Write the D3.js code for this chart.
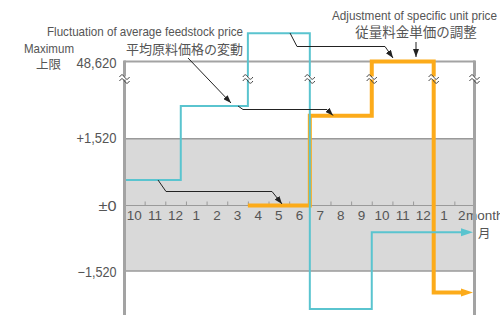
<!DOCTYPE html>
<html>
<head>
<meta charset="utf-8">
<script src="https://cdn.jsdelivr.net/npm/d3@7"></script>
<style>
  html, body { margin: 0; padding: 0; background: #fff; }
  svg { display: block; }
  text { font-family: "Liberation Sans Narrow", "Liberation Sans", Arial, sans-serif; fill: #555; }
  .cjk { font-family: "Noto Sans CJK JP", "Noto Sans CJK SC", sans-serif; }
</style>
</head>
<body>
<svg id="chart" width="500" height="315"></svg>
<script>
// ---- data ----
const months = ["10","11","12","1","2","3","4","5","6","7","8","9","10","11","12","1","2"];
const yTickValues = [-1520, 0, 1520, 48620];
const yTickLabels = ["\u22121,520", "\u00b10", "+1,520", "48,620"];
// average feedstock price fluctuation (step boundaries in month index, level per step)
const feedX = [0, 2.75, 6, 9, 12, 17];
const feedY = [580, 21470, 65830, -2400, -620];
// adjustment of specific unit price
const unitX = [6, 9, 12, 15, 17];
const unitY = [0, 15550, 48620, -2020];

const blue = "#5ac4cf", orange = "#fcab1a", gridGray = "#a3a3a3";

const svg = d3.select("#chart");
const x = d3.scaleLinear().domain([0, months.length]).range([124, 475]);
const y = d3.scaleLinear().domain(yTickValues).range([271, 205.5, 138.7, 61.5]);

// markers
const defs = svg.append("defs");
function marker(id, color, w, h) {
  defs.append("marker").attr("id", id).attr("viewBox", `0 0 ${w} ${h}`)
    .attr("refX", w).attr("refY", h / 2).attr("markerWidth", w).attr("markerHeight", h)
    .attr("markerUnits", "userSpaceOnUse").attr("orient", "auto")
    .append("path").attr("d", `M0,0L${w},${h / 2}L0,${h}Z`).attr("fill", color);
}
marker("ak", "#222", 8, 6);

// grey band between ±1,520
svg.append("rect").attr("x", x(0)).attr("y", y(1520))
  .attr("width", x(months.length) - x(0)).attr("height", y(-1520) - y(1520))
  .attr("fill", "#d9d9d9");
[1520, -1520].forEach(v => svg.append("line")
  .attr("x1", x(0)).attr("x2", x(months.length)).attr("y1", y(v)).attr("y2", y(v))
  .attr("stroke", "#9a9a9a").attr("stroke-width", 1.5));

// top border (maximum)
svg.append("line").attr("x1", x(0)).attr("x2", x(months.length))
  .attr("y1", y(48620)).attr("y2", y(48620)).attr("stroke", gridGray).attr("stroke-width", 2);

// month axis on zero line
const xAxis = d3.axisTop(x).tickValues(d3.range(1, months.length)).tickSize(4).tickFormat("");
const gx = svg.append("g").attr("transform", `translate(0,${y(0)})`).call(xAxis);
gx.select(".domain").attr("stroke", "#9a9a9a").attr("d", `M${x(0)},0H${x(months.length)}`);
gx.selectAll(".tick line").attr("stroke", "#9a9a9a");

svg.append("g").selectAll("text").data(months).join("text")
  .attr("x", (d, i) => x(i + 0.5) - (i === months.length - 1 ? 3 : 0)).attr("y", 220).attr("text-anchor", "middle")
  .attr("font-size", 13.5).text(d => d);
svg.append("text").attr("x", 466).attr("y", 220).attr("font-size", 13.5).text("month");
svg.append("text").attr("class", "cjk").attr("x", 478).attr("y", 237.5).attr("font-size", 12.5).text("月");

// y tick labels
const labelBase = { "-1520": 276.5, "0": 211, "1520": 142.5, "48620": 67.5 };
const labelLen = { "-1520": 39, "0": 18, "1520": 40, "48620": 40 };
svg.append("g").selectAll("text").data(yTickValues).join("text")
  .attr("x", 116.5).attr("y", d => labelBase[d]).attr("text-anchor", "end")
  .attr("font-size", 14).attr("textLength", d => labelLen[d]).attr("lengthAdjust", "spacingAndGlyphs")
  .text((d, i) => yTickLabels[i]);
svg.append("text").attr("x", 24).attr("y", 53).attr("font-size", 13.5)
  .attr("textLength", 50).attr("lengthAdjust", "spacingAndGlyphs").text("Maximum");
svg.append("text").attr("class", "cjk").attr("x", 36).attr("y", 68.5).attr("font-size", 12.5).text("上限");

// step series
function stepPoints(xs, ys) {
  const pts = [];
  ys.forEach((v, i) => { pts.push([x(xs[i]), y(v)]); pts.push([x(xs[i + 1]), y(v)]); });
  return pts;
}
const lineGen = d3.line();
function drawSeries(xs, ys, color, width, head) {
  const pts = stepPoints(xs, ys);
  const last = pts[pts.length - 1];
  const tipX = last[0] - 2;
  pts[pts.length - 1] = [tipX - head[0] + 1, last[1]];
  svg.append("path").attr("d", lineGen(pts)).attr("fill", "none")
    .attr("stroke", color).attr("stroke-width", width).attr("stroke-linejoin", "miter");
  svg.append("path")
    .attr("d", `M${tipX},${last[1]}L${tipX - head[0]},${last[1] - head[1] / 2}L${tipX - head[0]},${last[1] + head[1] / 2}Z`)
    .attr("fill", color);
}
drawSeries(unitX, unitY, orange, 4, [12, 8]);
drawSeries(feedX, feedY, blue, 2, [12, 8]);

// left and right frame lines
[0, months.length].forEach(v => svg.append("line")
  .attr("x1", x(v) + (v ? -0.5 : 0.5)).attr("x2", x(v) + (v ? -0.5 : 0.5))
  .attr("y1", y(48620) - 1).attr("y2", 315).attr("stroke", gridGray).attr("stroke-width", 3));

// axis break marks
const breakY = 78;
const breakXs = [x(0) + 0.5, x(feedX[2]), x(feedX[3]), x(unitX[2]), x(unitX[3]), x(months.length) - 0.5];
const gb = svg.append("g");
breakXs.forEach(bx => {
  gb.append("rect").attr("x", bx - 5).attr("y", breakY - 1.5).attr("width", 10).attr("height", 3).attr("fill", "#fff");
  [-2, 2].forEach(dy => gb.append("path")
    .attr("d", `M${bx - 5},${breakY + dy + 1}c2,-3 3,-3 5,0s3,3 5,0`)
    .attr("fill", "none").attr("stroke", "#444").attr("stroke-width", 1));
});

// leader lines
const leaders = [
  [[158, 180], [166, 191.5], [272, 191.5], [282, 204]],
  [[238, 106], [243, 109.5], [327, 109.5], [333, 115.5]],
  [[290, 33], [297, 46.5], [385, 46.5], [393, 58]],
  [[188, 58], [231, 103]],
  [[416, 42], [416, 57]]
];
leaders.forEach(p => svg.append("path").attr("d", lineGen(p)).attr("fill", "none")
  .attr("stroke", "#222").attr("stroke-width", 1).attr("marker-end", "url(#ak)"));

// annotation labels
svg.append("text").attr("x", 243).attr("y", 36).attr("text-anchor", "end").attr("font-size", 13.5)
  .attr("textLength", 196).attr("lengthAdjust", "spacingAndGlyphs").text("Fluctuation of average feedstock price");
svg.append("text").attr("class", "cjk").attr("x", 243).attr("y", 54).attr("text-anchor", "end")
  .attr("font-size", 13).text("平均原料価格の変動");
svg.append("text").attr("x", 332).attr("y", 20).attr("font-size", 13.5)
  .attr("textLength", 165).attr("lengthAdjust", "spacingAndGlyphs").text("Adjustment of specific unit price");
svg.append("text").attr("class", "cjk").attr("x", 416).attr("y", 37).attr("text-anchor", "middle")
  .attr("font-size", 13.5).text("従量料金単価の調整");
</script>
</body>
</html>
